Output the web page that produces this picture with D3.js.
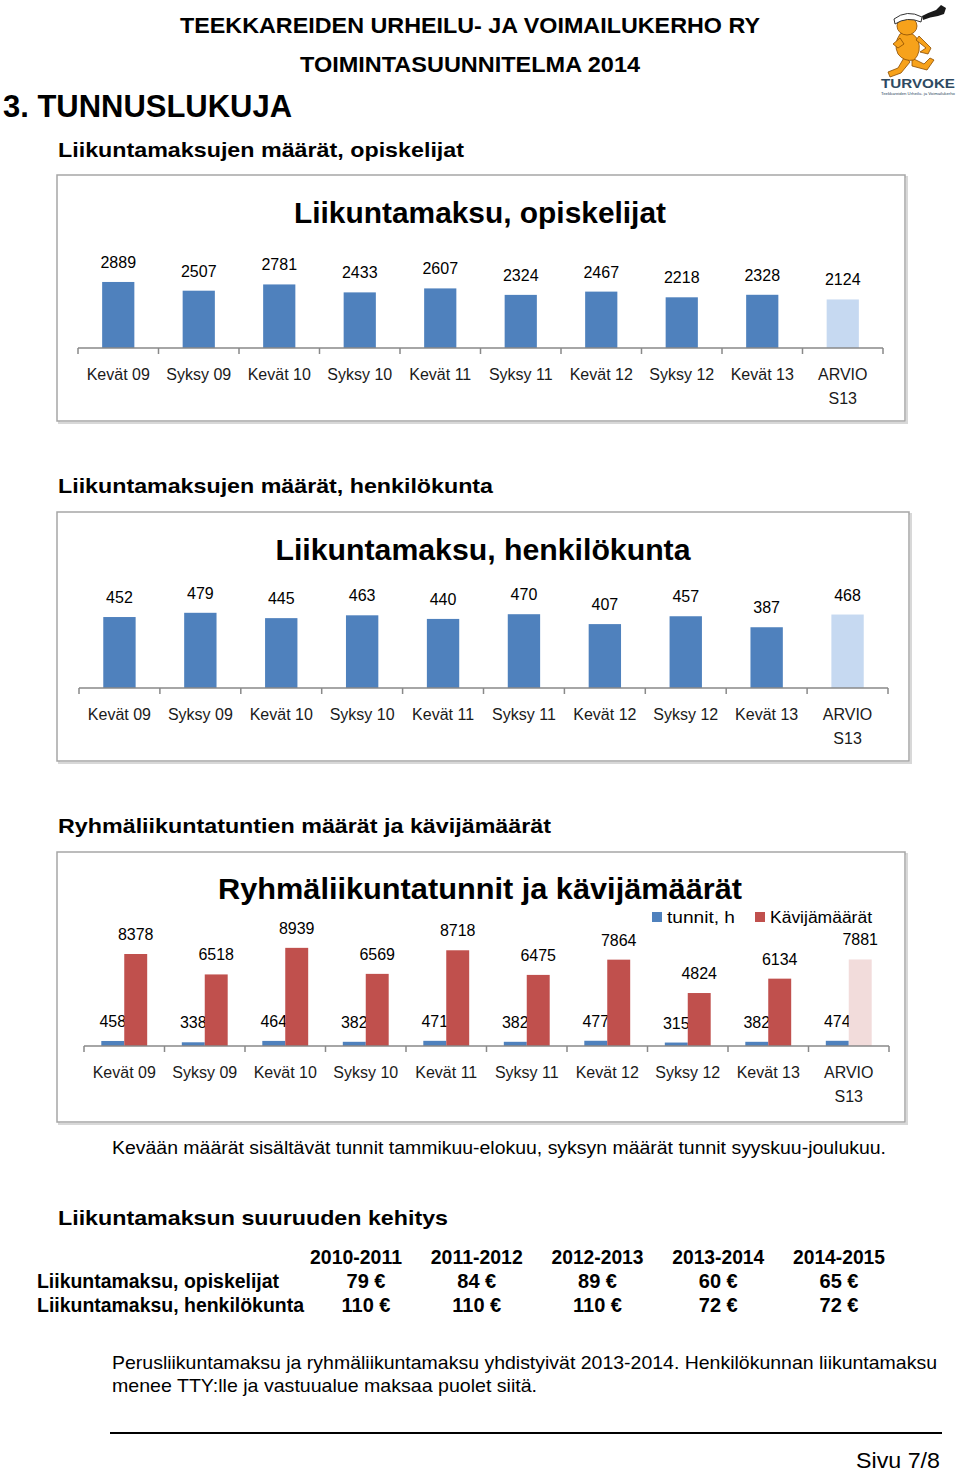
<!DOCTYPE html>
<html><head><meta charset="utf-8">
<script src="https://cdn.jsdelivr.net/npm/d3@7"></script>
<style>body{margin:0;background:#fff}svg{display:block}</style>
</head><body><div id="c"></div>
<script>
const categories = ["Kevät 09","Syksy 09","Kevät 10","Syksy 10","Kevät 11","Syksy 11","Kevät 12","Syksy 12","Kevät 13","ARVIO S13"];
const opiskelijat = [2889,2507,2781,2433,2607,2324,2467,2218,2328,2124];
const henkilokunta = [452,479,445,463,440,470,407,457,387,468];
const tunnit = [458,338,464,382,471,382,477,315,382,474];
const kavijat = [8378,6518,8939,6569,8718,6475,7864,4824,6134,7881];
const seriesNames = ["tunnit, h","Kävijämäärät"];
const feeYears = ["2010-2011","2011-2012","2012-2013","2013-2014","2014-2015"];
const feeRows = ["Liikuntamaksu, opiskelijat","Liikuntamaksu, henkilökunta"];
const feeOpiskelijat = [79,84,89,60,65];
const feeHenkilokunta = [110,110,110,72,72];

const W=960,H=1472;
const svg=d3.select("#c").append("svg").attr("width",W).attr("height",H);
svg.append("rect").attr("width",W).attr("height",H).attr("fill","#fff");
const FONT="'Liberation Sans', Arial, sans-serif";
const BLUE="#4f81bd", BLUE_L="#c6d9f1", RED="#c0504d", RED_L="#f2dcdb";

function txt(x,y,s,o={}){
  const t=svg.append("text").attr("x",x).attr("y",y).text(s)
    .attr("font-family",FONT).attr("font-size",o.size||16)
    .attr("font-weight",o.bold?"bold":"normal")
    .attr("fill",o.fill||"#000")
    .attr("text-anchor",o.anchor||"start");
  if(o.len){t.attr("textLength",o.len).attr("lengthAdjust","spacingAndGlyphs");}
  return t;
}

// Header
txt(180,33,"TEEKKAREIDEN URHEILU- JA VOIMAILUKERHO RY",{size:22,bold:true,len:580});
txt(300,72,"TOIMINTASUUNNITELMA 2014",{size:22,bold:true,len:340});
txt(3,117,"3. TUNNUSLUKUJA",{size:32,bold:true,len:289});

// Logo
const lg=svg.append("g");
const OR="#f7a21b", OS="#8a4b00";
// tassel
lg.append("path").attr("d","M922,16 Q930,12 936,10 L941,5 L946,8 L944,14 L938,16 Q930,17 923,20 Z").attr("fill","#1a1a1a");
// legs
lg.append("path").attr("d","M905,56 L898,68 L888,72 L890,77 L901,73 L910,62 Z").attr("fill",OR).attr("stroke",OS).attr("stroke-width",0.8);
lg.append("path").attr("d","M912,58 L924,64 L930,58 L934,60 L927,70 L912,66 Z").attr("fill",OR).attr("stroke",OS).attr("stroke-width",0.8);
// body
lg.append("path").attr("d","M900,34 Q893,44 898,54 Q904,62 914,60 Q922,52 918,40 Q914,33 906,32 Z").attr("fill",OR).attr("stroke",OS).attr("stroke-width",0.8);
// arms
lg.append("path").attr("d","M916,40 L926,48 L920,52 L928,54 L931,48 L919,36 Z").attr("fill",OR).attr("stroke",OS).attr("stroke-width",0.8);
lg.append("path").attr("d","M900,38 L893,44 L898,48 L904,44 Z").attr("fill",OR).attr("stroke",OS).attr("stroke-width",0.8);
// head
lg.append("ellipse").attr("cx",907).attr("cy",26).attr("rx",10).attr("ry",9).attr("fill",OR).attr("stroke",OS).attr("stroke-width",0.8);
// cap
lg.append("path").attr("d","M894,19 Q907,9 922,17 L921,22 Q907,16 895,24 Z").attr("fill","#fff").attr("stroke","#333").attr("stroke-width",1);
txt(881,88,"TURVOKE",{size:13,bold:true,fill:"#2e4a62",len:74});
txt(881,95,"Teekkareiden Urheilu- ja Voimailukerho",{size:4,fill:"#2e4a62",len:74});

// Section headings
txt(58,157,"Liikuntamaksujen määrät, opiskelijat",{size:21,bold:true,len:406});
txt(58,493,"Liikuntamaksujen määrät, henkilökunta",{size:21,bold:true,len:435});
txt(58,833,"Ryhmäliikuntatuntien määrät ja kävijämäärät",{size:21,bold:true,len:493});
txt(58,1225,"Liikuntamaksun suuruuden kehitys",{size:21,bold:true,len:390});

function frame(x0,y0,x1,y1){
  svg.append("rect").attr("x",x0+2).attr("y",y0+2).attr("width",x1-x0).attr("height",y1-y0).attr("fill","none").attr("stroke","#d8d8d8").attr("stroke-width",2);
  svg.append("rect").attr("x",x0).attr("y",y0).attr("width",x1-x0).attr("height",y1-y0).attr("fill","#fff").attr("stroke","#a6a6a6").attr("stroke-width",1.5);
}
function axis(x,baseY){
  const g=svg.append("g");
  const [a,b]=x.range();
  g.append("line").attr("x1",a).attr("x2",b).attr("y1",baseY).attr("y2",baseY).attr("stroke","#898989").attr("stroke-width",1.5);
  const bounds=categories.map(c=>x(c)).concat([x(categories[categories.length-1])+x.step()]);
  g.selectAll("line.t").data(bounds).join("line").attr("class","t")
    .attr("x1",d=>d).attr("x2",d=>d).attr("y1",baseY).attr("y2",baseY+6).attr("stroke","#898989").attr("stroke-width",1.5);
  categories.forEach(c=>{
    const parts=c.startsWith("ARVIO")?c.split(" "):[c];
    const t=g.append("text").attr("font-family",FONT).attr("font-size",16).attr("fill","#1a1a1a").attr("text-anchor","middle");
    parts.forEach((p,i)=>t.append("tspan").attr("x",x(c)+x.bandwidth()/2).attr("y",baseY+32+i*24).text(p));
  });
}

// Chart 1
frame(57,175,905,421);
txt(480,223,"Liikuntamaksu, opiskelijat",{size:30,bold:true,anchor:"middle",len:372});
{
  const x=d3.scaleBand().domain(categories).range([78,883]);
  const y=d3.scaleLinear().domain([0,3500]).range([348,268]);
  const bw=x.bandwidth()*0.4;
  svg.selectAll("rect.b1").data(opiskelijat).join("rect").attr("class","b1")
    .attr("x",(d,i)=>x(categories[i])+x.bandwidth()/2-bw/2).attr("width",bw)
    .attr("y",d=>y(d)).attr("height",d=>y(0)-y(d))
    .attr("fill",(d,i)=>i===categories.length-1?BLUE_L:BLUE);
  svg.selectAll("text.v1").data(opiskelijat).join("text").attr("class","v1")
    .attr("x",(d,i)=>x(categories[i])+x.bandwidth()/2).attr("y",d=>y(d)-14)
    .attr("text-anchor","middle").attr("font-family",FONT).attr("font-size",16).text(d=>d);
  axis(x,348);
}

// Chart 2
frame(57,512,909,761);
txt(483,560,"Liikuntamaksu, henkilökunta",{size:30,bold:true,anchor:"middle",len:415});
{
  const x=d3.scaleBand().domain(categories).range([79,888]);
  const y=d3.scaleLinear().domain([0,500]).range([688,609.5]);
  const bw=x.bandwidth()*0.4;
  svg.selectAll("rect.b2").data(henkilokunta).join("rect").attr("class","b2")
    .attr("x",(d,i)=>x(categories[i])+x.bandwidth()/2-bw/2).attr("width",bw)
    .attr("y",d=>y(d)).attr("height",d=>y(0)-y(d))
    .attr("fill",(d,i)=>i===categories.length-1?BLUE_L:BLUE);
  svg.selectAll("text.v2").data(henkilokunta).join("text").attr("class","v2")
    .attr("x",(d,i)=>x(categories[i])+x.bandwidth()/2).attr("y",d=>y(d)-14)
    .attr("text-anchor","middle").attr("font-family",FONT).attr("font-size",16).text(d=>d);
  axis(x,688);
}

// Chart 3
frame(57,852,905,1122);
txt(480,899,"Ryhmäliikuntatunnit ja kävijämäärät",{size:30,bold:true,anchor:"middle",len:524});
{
  const x=d3.scaleBand().domain(categories).range([84,889]);
  const y=d3.scaleLinear().domain([0,10000]).range([1046,936.2]);
  const gw=x.bandwidth()*0.57;
  const x1=d3.scaleBand().domain(seriesNames).range([0,gw]);
  const off=x.bandwidth()/2-gw/2;
  const sets=[tunnit,kavijat];
  sets.forEach((vals,s)=>{
    const nm=seriesNames[s];
    svg.selectAll("rect.b3"+s).data(vals).join("rect").attr("class","b3"+s)
      .attr("x",(d,i)=>x(categories[i])+off+x1(nm)).attr("width",x1.bandwidth())
      .attr("y",d=>y(d)).attr("height",d=>y(0)-y(d))
      .attr("fill",(d,i)=>s===0?BLUE:(i===categories.length-1?RED_L:RED));
    svg.selectAll("text.v3"+s).data(vals).join("text").attr("class","v3"+s)
      .attr("x",(d,i)=>x(categories[i])+off+x1(nm)+x1.bandwidth()/2).attr("y",d=>y(d)-14)
      .attr("text-anchor","middle").attr("font-family",FONT).attr("font-size",16).text(d=>d);
  });
  axis(x,1046);
  const lgx=[652,755];
  seriesNames.forEach((n,i)=>{
    svg.append("rect").attr("x",lgx[i]).attr("y",912).attr("width",10).attr("height",10).attr("fill",i===0?BLUE:RED);
    txt(lgx[i]+15,923,n,{size:16,len:i===0?68:102});
  });
}

txt(112,1154,"Kevään määrät sisältävät tunnit tammikuu-elokuu, syksyn määrät tunnit syyskuu-joulukuu.",{size:18,len:774});

// Table
{
  const cx=d3.scalePoint().domain(feeYears).range([356,839]);
  feeYears.forEach(yr=>txt(cx(yr),1264,yr,{size:20,bold:true,anchor:"middle",len:92}));
  const rows=[feeOpiskelijat,feeHenkilokunta];
  const rowY=d3.scalePoint().domain(feeRows).range([1288,1312]);
  feeRows.forEach((r,ri)=>{
    txt(37,rowY(r),r,{size:20,bold:true,len:ri===0?242:267});
    rows[ri].forEach((v,i)=>txt(cx(feeYears[i])+(i===0?10:0),rowY(r),v+" €",{size:20,bold:true,anchor:"middle"}));
  });
}

txt(112,1369,"Perusliikuntamaksu ja ryhmäliikuntamaksu yhdistyivät 2013-2014. Henkilökunnan liikuntamaksu",{size:19,len:825});
txt(112,1392,"menee TTY:lle ja vastuualue maksaa puolet siitä.",{size:19,len:425});
svg.append("line").attr("x1",110).attr("x2",942).attr("y1",1433).attr("y2",1433).attr("stroke","#000").attr("stroke-width",2);
txt(940,1468,"Sivu 7/8",{size:22,anchor:"end",len:84});
</script></body></html>
